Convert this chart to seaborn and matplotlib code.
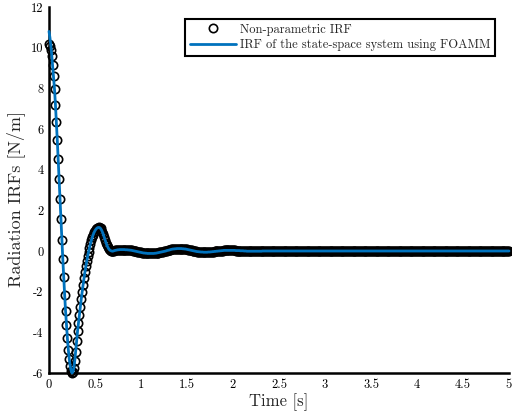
import numpy as np
import pandas as pd
import matplotlib
matplotlib.use('Agg')
import matplotlib.pyplot as plt
import seaborn as sns
import warnings
warnings.filterwarnings('ignore')

# sample step of the IRF [s]
dt = 0.01

# non-parametric IRF, read every 0.01 s from t = 0 to 2.49 s
irf_head = [
    10.20, 10.10, 9.90, 9.60, 9.15, 8.60, 7.95, 7.20, 6.35, 5.45,
    4.50, 3.55, 2.55, 1.55, 0.55, -0.40, -1.30, -2.15, -2.95, -3.65,
    -4.30, -4.85, -5.30, -5.65, -5.88, -6.00, -5.95, -5.75, -5.40, -4.95,
    -4.45, -3.95, -3.55, -3.15, -2.75, -2.38, -2.02, -1.68, -1.35, -1.05,
    -0.76, -0.50, -0.26, -0.04, 0.16, 0.35, 0.52, 0.67, 0.80, 0.91,
    1.00, 1.07, 1.12, 1.15, 1.16, 1.15, 1.11, 1.04, 0.94, 0.82,
    0.68, 0.54, 0.40, 0.28, 0.18, 0.10, 0.05, 0.02, 0.00, -0.01,
    0.00, 0.02, 0.03, 0.04, 0.05, 0.06, 0.06, 0.07, 0.07, 0.07,
    0.07, 0.07, 0.07, 0.06, 0.06, 0.06, 0.05, 0.05, 0.04, 0.04,
    0.03, 0.02, 0.01, 0.00, -0.01, -0.02, -0.03, -0.04, -0.05, -0.06,
    -0.07, -0.08, -0.09, -0.10, -0.10, -0.11, -0.11, -0.12, -0.12, -0.12,
    -0.12, -0.12, -0.12, -0.12, -0.12, -0.11, -0.11, -0.10, -0.09, -0.08,
    -0.07, -0.06, -0.05, -0.04, -0.03, -0.02, -0.01, 0.00, 0.02, 0.03,
    0.04, 0.05, 0.07, 0.08, 0.09, 0.10, 0.10, 0.11, 0.11, 0.12,
    0.12, 0.12, 0.12, 0.12, 0.12, 0.11, 0.11, 0.10, 0.10, 0.09,
    0.08, 0.07, 0.06, 0.05, 0.04, 0.03, 0.02, 0.01, 0.00, -0.01,
    -0.02, -0.03, -0.03, -0.04, -0.04, -0.05, -0.05, -0.05, -0.06, -0.06,
    -0.06, -0.06, -0.06, -0.05, -0.05, -0.05, -0.04, -0.04, -0.03, -0.03,
    -0.02, -0.02, -0.01, -0.01, 0.00, 0.00, 0.01, 0.01, 0.02, 0.02,
    0.03, 0.03, 0.03, 0.03, 0.03, 0.03, 0.03, 0.03, 0.03, 0.03,
    0.03, 0.03, 0.03, 0.02, 0.02, 0.02, 0.02, 0.02, 0.01, 0.01,
    0.01, 0.01, 0.00, 0.00, 0.00, -0.01, -0.01, -0.01, -0.01, -0.01,
    -0.01, -0.01, -0.01, -0.01, -0.01, -0.01, -0.01, -0.01, -0.01, -0.01,
    -0.01, -0.01, 0.00, 0.00, 0.00, 0.00, 0.00, 0.00, 0.00, 0.00,
    0.00, 0.00, 0.00, 0.00, 0.00, 0.00, 0.00, 0.00, 0.00, 0.00,
]
# from 2.5 s to 5 s the IRF sits on zero
irf_tail = [0.0] * 251
irf_np = irf_head + irf_tail

# state-space (FOAMM) IRF: differs from the samples only at the very start
ss_start = [10.80, 10.50, 10.10, 9.62, 9.08, 8.52]
irf_ss = ss_start + irf_np[len(ss_start):]

time = np.round(np.arange(len(irf_np)) * dt, 2)

df = pd.DataFrame({'t': time, 'np': irf_np, 'ss': irf_ss})

x_ticks = [0, 0.5, 1, 1.5, 2, 2.5, 3, 3.5, 4, 4.5, 5]
x_labels = ['0', '0.5', '1', '1.5', '2', '2.5', '3', '3.5', '4', '4.5', '5']
y_ticks = [-6, -4, -2, 0, 2, 4, 6, 8, 10, 12]
y_labels = ['-6', '-4', '-2', '0', '2', '4', '6', '8', '10', '12']

sns.set_theme(style='white')
plt.rcParams['font.family'] = ['cmr10', 'DejaVu Serif']
plt.rcParams['axes.unicode_minus'] = False
plt.rcParams['mathtext.fontset'] = 'cm'

fig = plt.figure(figsize=(5.12, 4.2), dpi=100)
ax = fig.add_axes([49 / 512, 1 - 373 / 420, 460 / 512, 366 / 420])

sns.lineplot(data=df, x='t', y='np', ax=ax, linestyle='none', marker='o',
             markersize=6, markerfacecolor='none', markeredgecolor='black',
             markeredgewidth=1.2, label='Non-parametric IRF', sort=False,
             clip_on=False)
sns.lineplot(data=df, x='t', y='ss', ax=ax, color='#0072BD', linewidth=2.0,
             label='IRF of the state-space system using FOAMM', sort=False,
             clip_on=False)

ax.set_xlim(0, 5)
ax.set_ylim(-6, 12)
ax.set_xticks(x_ticks)
ax.set_xticklabels(x_labels)
ax.set_yticks(y_ticks)
ax.set_yticklabels(y_labels)
ax.tick_params(direction='in', length=4, width=1.5, labelsize=9, colors='black',
               pad=4)
ax.set_xlabel('Time [s]', fontsize=12, labelpad=2)
ax.set_ylabel('Radiation IRFs [N/m]', fontsize=13, va='center')
ax.yaxis.set_label_coords(-0.072, 0.475)

sns.despine(ax=ax)
for side in ['left', 'bottom']:
    ax.spines[side].set_linewidth(1.8)
    ax.spines[side].set_color('black')
    ax.spines[side].set_zorder(0.5)

leg = ax.legend(loc='upper right', bbox_to_anchor=(0.969, 0.967),
                borderaxespad=0, fancybox=False, framealpha=1,
                edgecolor='black', fontsize=9, handlelength=3.7,
                handletextpad=0.3, borderpad=0.35, labelspacing=0.3)
leg.get_frame().set_linewidth(1.5)

fig.savefig('out.png', dpi=100)
